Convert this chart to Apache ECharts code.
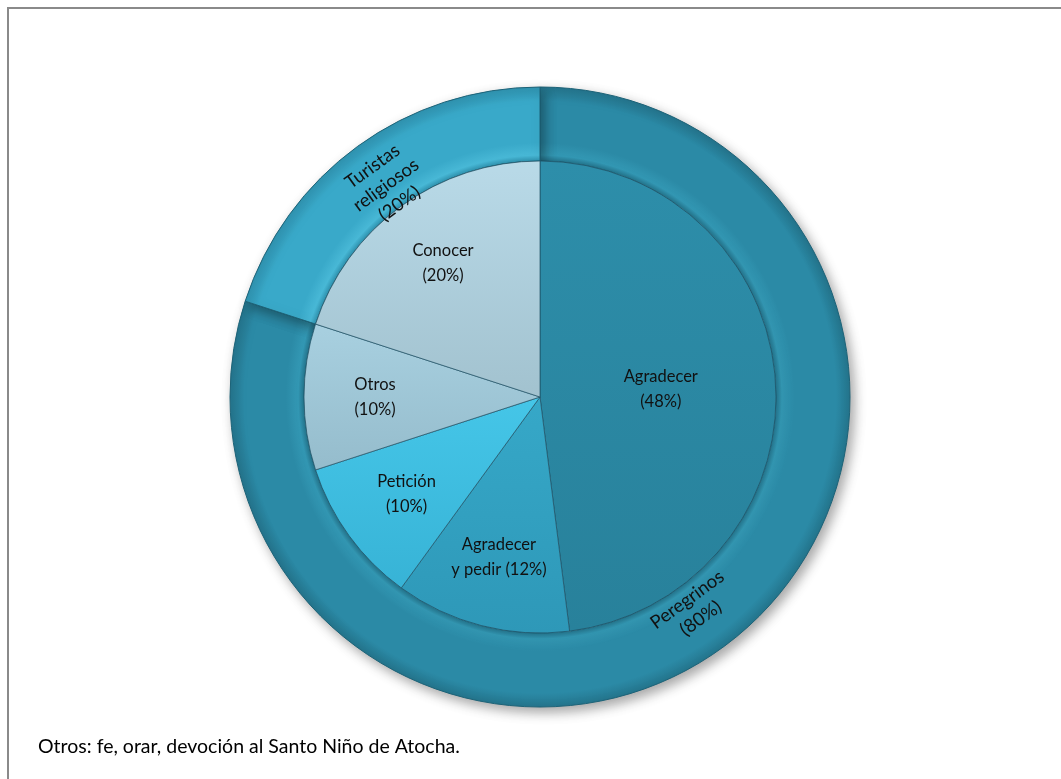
<!DOCTYPE html>
<html><head><meta charset="utf-8">
<script src="https://cdn.jsdelivr.net/npm/echarts@6/dist/echarts.min.js"></script>
<style>html,body{margin:0;padding:0;background:#fff}#c{width:1061px;height:779px}</style>
</head><body><div id="c"></div>
<script>
const innerNames = ['Agradecer', 'Agradecer\ny pedir', 'Petición', 'Otros', 'Conocer'];
const innerValues = [48, 12, 10, 10, 20];
const innerColors = [['#2d8eaa', '#28819b'], ['#36a8c8', '#2e98b8'], ['#45c6e8', '#37b3d6'], ['#a8d0e0', '#95bccc'], ['#b9dae8', '#a2c2cf']];
const outerNames = ['Peregrinos', 'Turistas\nreligiosos'];
const outerValues = [80, 20];
const outerColors = [['#2b8aa6', '#24758d', '#3398b4'], ['#39a9c9', '#2f93b0', '#48b8d6']];
const footnote = 'Otros: fe, orar, devoción al Santo Niño de Atocha.';

const FONT = 'Lato';
const CX = 540, CY = 397, R_IN = 236, R_OUT = 310;
const chart = echarts.init(document.getElementById('c'), null, {renderer: 'canvas'});

function ringGrad(c) {
  return new echarts.graphic.RadialGradient(CX, CY, R_OUT, [
    {offset: 0, color: c[1]},
    {offset: 0.762, color: c[1]},
    {offset: 0.78, color: c[2]},
    {offset: 0.82, color: c[0]},
    {offset: 0.955, color: c[0]},
    {offset: 1, color: c[1]}
  ], true);
}
function sliceGrad(c) {
  return new echarts.graphic.LinearGradient(0, 0, 0, 1, [{offset: 0, color: c[0]}, {offset: 1, color: c[1]}]);
}

const innerData = innerNames.map((n, i) => ({
  name: n, value: innerValues[i],
  itemStyle: {color: sliceGrad(innerColors[i])},
  label: {show: i === 0}
}));
const innerLabelData = innerNames.map((n, i) => ({
  name: n, value: innerValues[i],
  label: {show: i !== 0}
}));
const outerData = outerNames.map((n, i) => ({
  name: n, value: outerValues[i], itemStyle: {color: ringGrad(outerColors[i])}
}));
const outerLabelData = outerNames.map((n, i) => ({name: n, value: outerValues[i]}));

const labelBase = {position: 'inside', color: '#111', fontFamily: FONT, fontSize: 16.5, lineHeight: 25};

chart.setOption({
  animation: false,
  backgroundColor: '#fff',
  graphic: [
    {type: 'rect', shape: {x: 8, y: 8, width: 1100, height: 800}, style: {fill: 'none', stroke: '#8a8a8a', lineWidth: 2}, silent: true, z: -10},
    {type: 'text', left: 38, top: 737, style: {text: footnote, font: '19.5px ' + FONT, fill: '#000'}}
  ],
  series: [
    {
      type: 'pie', center: [CX, CY], radius: [R_IN, R_OUT], startAngle: 90, clockwise: true,
      silent: true, avoidLabelOverlap: false,
      itemStyle: {borderColor: '#1d6378', borderWidth: 1, shadowBlur: 12, shadowOffsetX: 4, shadowOffsetY: 5, shadowColor: 'rgba(0,0,0,0.35)'},
      label: {show: false},
      labelLine: {show: false},
      data: outerData, z: 1
    },
    {
      type: 'pie', center: [CX, CY], radius: [R_IN, 282], startAngle: 90, clockwise: true,
      silent: true, avoidLabelOverlap: false,
      itemStyle: {color: 'rgba(0,0,0,0)', borderWidth: 0},
      label: {show: true, position: 'inside', rotate: 'tangential', color: '#111', fontFamily: FONT, fontSize: 18.5, lineHeight: 23,
        formatter: p => p.name + '\n(' + p.value + '%)'},
      labelLine: {show: false},
      data: outerLabelData, z: 4
    },
    {
      type: 'pie', center: [CX, CY], radius: [0, R_IN], startAngle: 90, clockwise: true,
      silent: true, avoidLabelOverlap: false,
      itemStyle: {borderColor: 'rgba(30,80,100,0.7)', borderWidth: 1},
      label: Object.assign({}, labelBase, {formatter: p => p.name + '\n(' + p.value + '%)'}),
      labelLine: {show: false},
      data: innerData, z: 2
    },
    {
      type: 'pie', center: [CX, CY], radius: [88, R_IN], startAngle: 90, clockwise: true,
      silent: true, avoidLabelOverlap: false,
      itemStyle: {color: 'rgba(0,0,0,0)', borderWidth: 0},
      label: Object.assign({}, labelBase, {
        formatter: p => p.name.indexOf('\n') >= 0 ? p.name + ' (' + p.value + '%)' : p.name + '\n(' + p.value + '%)'}),
      labelLine: {show: false},
      data: innerLabelData, z: 3
    }
  ]
});
</script></body></html>
